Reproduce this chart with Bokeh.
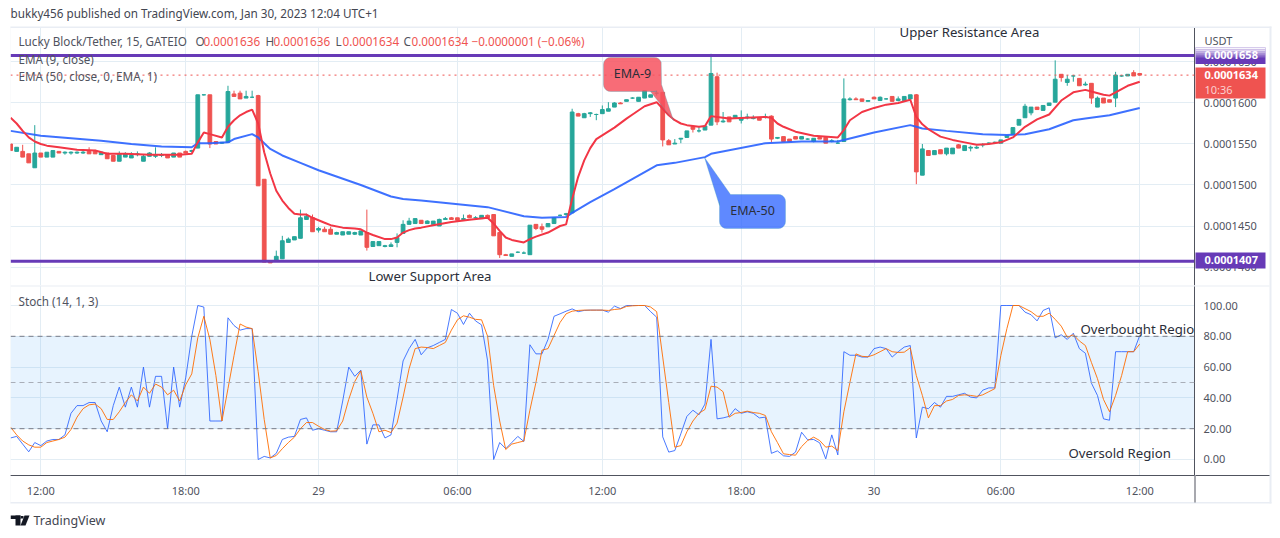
from bokeh.plotting import figure
from bokeh.layouts import column
from bokeh.core.properties import value
from bokeh.models import (Range1d, FixedTicker, PrintfTickFormatter, Span, BoxAnnotation,
                          PolyAnnotation, Label, ColumnDataSource)
from bokeh.embed import file_html
from bokeh.resources import INLINE
import numpy as np

# ---------------- data (prices in units of 1e-7 USDT, one value per bar) ----------------
opens = [1550,1541,1541,1538,1521,1539,1534,1534,1541,1539,
 1539,1539,1539,1541,1541,1537,1539,1536,1529,1534,
 1533,1537,1529,1535,1535,1536,1537,1534,1539,1541,
 1541,1545,1610,1610,1553,1551,1552,1611,1612,1606,
 1607,1609,1507,1407,1407,1410,1430,1433,1435,1458,
 1460,1445,1446,1446,1440,1439,1440,1440,1439,1442,
 1425,1426,1425,1425,1430,1441,1452,1453,1457,1453,
 1452,1450,1458,1460,1460,1458,1463,1460,1459,1463,
 1464,1442,1415,1413,1418,1417,1415,1452,1449,1449,
 1453,1463,1464,1466,1587,1582,1587,1586,1587,1590,
 1595,1600,1602,1606,1602,1606,1607,1612,1613,1554,
 1550,1556,1558,1571,1566,1567,1573,1632,1577,1583,
 1582,1579,1582,1581,1582,1583,1584,1557,1559,1556,
 1559,1556,1556,1553,1558,1558,1553,1551,1553,1604,
 1605,1605,1602,1607,1603,1605,1608,1603,1603,1605,
 1610,1512,1542,1537,1543,1538,1538,1549,1542,1545,
 1545,1549,1551,1552,1551,1558,1562,1573,1582,1588,
 1595,1591,1597,1601,1635,1625,1633,1630,1622,1624,
 1595,1606,1604,1606,1633,1633,1637,1636]
highs = [1550,1546,1549,1538,1573,1539,1540,1542,1541,1541,
 1541,1541,1543,1546,1543,1540,1539,1536,1541,1540,
 1540,1541,1537,1540,1546,1539,1537,1539,1539,1542,
 1543,1610,1610,1610,1553,1552,1621,1615,1615,1615,
 1615,1610,1507,1407,1420,1438,1436,1437,1470,1465,
 1464,1449,1449,1449,1443,1443,1443,1443,1444,1470,
 1431,1431,1427,1430,1441,1457,1460,1459,1457,1457,
 1456,1459,1461,1461,1460,1464,1464,1462,1463,1464,
 1464,1442,1416,1416,1419,1419,1451,1452,1453,1453,
 1460,1464,1466,1593,1588,1588,1589,1587,1597,1601,
 1601,1601,1604,1607,1607,1615,1610,1615,1613,1556,
 1556,1557,1566,1571,1571,1572,1660,1637,1589,1583,
 1585,1591,1587,1585,1582,1587,1585,1558,1559,1556,
 1559,1559,1557,1557,1559,1558,1556,1555,1630,1607,
 1607,1605,1603,1608,1608,1606,1608,1608,1608,1610,
 1611,1550,1542,1542,1543,1545,1545,1550,1548,1548,
 1548,1551,1552,1553,1555,1560,1570,1580,1599,1595,
 1595,1597,1600,1652,1635,1634,1634,1630,1626,1624,
 1608,1606,1604,1638,1634,1635,1640,1636]
lows = [1542,1541,1534,1527,1521,1534,1534,1534,1539,1537,
 1537,1538,1538,1538,1538,1537,1532,1529,1529,1534,
 1533,1535,1529,1535,1533,1534,1533,1534,1534,1539,
 1540,1545,1609,1545,1550,1550,1552,1608,1605,1606,
 1606,1499,1406,1405,1407,1410,1430,1433,1435,1458,
 1443,1442,1443,1440,1440,1439,1440,1439,1439,1420,
 1425,1426,1424,1425,1424,1441,1452,1453,1453,1453,
 1452,1450,1458,1458,1456,1457,1460,1459,1459,1460,
 1438,1411,1414,1413,1417,1416,1415,1445,1442,1449,
 1453,1462,1462,1466,1584,1582,1583,1579,1587,1590,
 1595,1599,1602,1605,1602,1606,1607,1609,1547,1549,
 1550,1551,1558,1564,1564,1567,1573,1573,1576,1577,
 1582,1575,1580,1580,1579,1581,1552,1556,1553,1553,
 1556,1556,1555,1552,1556,1551,1552,1550,1553,1603,
 1604,1602,1602,1605,1603,1604,1602,1602,1603,1605,
 1501,1512,1536,1537,1538,1536,1538,1545,1542,1541,
 1544,1546,1550,1551,1551,1558,1562,1573,1582,1585,
 1592,1591,1597,1601,1626,1621,1626,1621,1621,1599,
 1595,1600,1601,1595,1632,1633,1633,1634]
closes = [1542,1546,1534,1527,1539,1534,1540,1542,1539,1540,
 1540,1540,1540,1538,1538,1540,1532,1529,1538,1538,
 1536,1538,1535,1539,1536,1537,1533,1539,1534,1539,
 1542,1610,1610,1550,1550,1552,1614,1608,1605,1608,
 1607,1499,1406,1405,1413,1432,1434,1437,1460,1462,
 1443,1447,1443,1440,1442,1443,1443,1442,1444,1424,
 1431,1431,1426,1427,1436,1452,1456,1459,1453,1456,
 1456,1458,1459,1458,1457,1459,1460,1460,1463,1460,
 1438,1415,1414,1416,1418,1417,1451,1447,1446,1453,
 1460,1463,1465,1589,1584,1587,1588,1586,1592,1593,
 1600,1599,1604,1606,1607,1615,1610,1612,1555,1549,
 1551,1557,1566,1568,1566,1572,1636,1577,1578,1577,
 1585,1582,1583,1582,1579,1583,1556,1558,1553,1553,
 1556,1559,1556,1557,1556,1551,1554,1551,1605,1605,
 1604,1602,1603,1605,1607,1605,1602,1605,1608,1610,
 1516,1544,1536,1542,1538,1545,1545,1545,1548,1546,
 1546,1549,1551,1552,1555,1560,1570,1580,1596,1595,
 1592,1597,1600,1629,1631,1629,1633,1621,1623,1606,
 1606,1600,1601,1634,1633,1635,1633,1634]

ema9_bars = [-5,-4,-3,-2,-1,0,1,3,6,9,11,14,18,23,25,26,27,28,30,31,32,33,34,35,36,37,38,39,40,41,42,43,44,45,46,47,48,50,52,53,54,55,57,58,59,60,61,62,63,
 65,68,71,74,75,76,77,78,80,81,82,84,86,87,88,89,90,91,92,95,97,98,100,102,103,104,105,106,107,109,110,111,112,114,120,121,122,123,125,128,132,
 133,134,136,138,140,142,144,145,146,147,149,151,153,155,157,159,160,161,163,165,167,169,171,173,174,176,177,178,180,182]
ema9_vals = [1582,1575,1566,1558,1553,1550,1548,1546,1543,1542,1538,1538,1537,1537,1538,1552,1564,1562,1558,1571,1579,1585,1589,1592,1575,1540,1514,1493,1481,1472,1465,1464,1464,1460,1457,1454,1451,1448,1447,1446,1442,1439,1434,1434,1436,1442,1445,1447,1448,
 1451,1455,1457.5,1460,1453,1444,1436,1433,1430,1434,1437,1442,1450,1452,1483,1510,1530,1545,1556,1570,1581,1586,1596,1601,1593,1585,1579,1575,1573,1571,1572,1584,1583,1581,1583,1582,1575,1571,1565,1560,1558,
 1567,1579,1589,1594,1598,1600,1604,1583,1574,1568,1559,1555,1552,1549,1550,1552,1555,1558,1571,1580,1586,1603,1613,1616,1614,1610,1609,1613,1621,1626]
ema50_bars = [-5,0,5,10,15,20,25,26,28,31,32,35,36,37,38,40,43,46,53,58,60,63,
 74,80,83,87,88,91,93,95,102,105,110,111,120,126,132,138,144,145,146,150,156,160,163,167,171,173,177,182]
ema50_vals = [1566,1560,1557,1554,1550,1547,1546,1551,1551,1552,1556,1562,1558,1551,1544,1536,1527,1518,1500,1486,1483,1481,
 1473,1462,1460,1461,1466,1479,1487,1495,1524,1527,1534,1538,1551,1553,1553,1564,1573,1571,1569,1566,1562,1561,1562,1568,1579,1581,1585,1594]

stoch_k = [14,15,10,5,11,9,12,13,13,16,
 30,35,35,37,37,25,18,35,47,34,
 47,34,60,34,54,54,20,60,34,53,
 80,100,99,25,25,25,92,87,84,85,
 85,0,2,1,4,13,14.5,15,26,27,
 19,20,19,18,18,38,60,54,58,10,
 22.5,22.5,14,16,39,64,72,78,68,72.5,
 74,76,78,97.4,95,87.7,95,90,87.4,64,
 0,11,7,11,15,11.7,74.5,68.6,68.6,78,
 93,94.6,96.3,97.8,96,96.8,97,97,97,95.7,
 99.6,98,100,100,100,100,96,92.4,14.7,4.8,
 5.8,16.7,28,32,29,36,78,26.4,27,28,
 33,30,31,30,27,27.5,4,5.6,2.4,2,
 4.8,17.7,12.8,13,10.8,0.4,16,3,70,67.7,
 67.7,66.5,66.5,72,73,72,66.5,70,73,74,
 14,34,33,37,34,41,41,42,43,40.5,
 40,45,46.5,46.5,100,100,100,100,95.7,94,
 90,96.8,98.5,79,81,78,82,72,69,49.6,
 41.6,26.4,25.5,70,70,70,70,80.5]
stoch_d = [21,16,12,9.5,8,8,11,12,13,14.5,
 19.5,27.5,33,35.5,36,33,26,26,31,37,
 42,38,47,43,49,47,42,45,38,48.5,
 55.6,79,93,78,54.5,25,46,67.5,88,86,
 85,57,26,1,2.6,7,11,14.5,20,24,
 24,21.6,19.5,18.4,18.6,25,39,50.6,57.6,40.5,
 30,18,19,17.5,23.6,40.5,59,72,73,72.7,
 72,74,76,84,90.7,93.3,92.4,91,90.7,80,
 48,25,6.5,10,11,12,32,50,71,72,
 80.5,89,94.6,96.3,96.8,97,97,97,97,96.8,
 97.4,97.8,99.4,99.8,100,100,99,96,66.5,37,
 8,9,18,25,30,32.5,47.6,47,44,27.5,
 30,30.5,31.4,30.5,30,28.6,18,11,3.7,3.2,
 2.8,8.4,12.3,14.5,12.3,8,8.7,5.8,31,50,
 68.6,67,66.7,68,70,72,70,69.5,69.7,72.5,
 54.5,41.6,27,35,35,38,39,41.6,42,41.6,
 41,42,44,46,67.5,85,100,100,98,96,
 93,93,95,91,86.6,79.4,81,77,74,63,
 52.5,39,31,41.6,54.5,70,70,75]

time_tick_bars = [0,24,46,69,93,116,138,159,182]
time_tick_labels = ["12:00","18:00","29","06:00","12:00","18:00","30","06:00","12:00"]
price_ticks = [1400,1450,1500,1550,1600,1650]
stoch_ticks = [0,20,40,60,80,100]
resistance_level = 1658
support_level = 1407
last_close = 1634
# -----------------------------------------------------------------------------------------

assert len(opens)==len(highs)==len(lows)==len(closes)==len(stoch_k)==len(stoch_d)==188
assert len(ema9_bars)==len(ema9_vals) and len(ema50_bars)==len(ema50_vals)

UNIT = 1e-7
FONT = "Noto Sans"
GRID = "#e3edf4"
TXT = "#50535e"
AXIS = "#50535e"
BAND = "#e9edf4"
GREEN, RED = "#26a69a", "#ef5350"
PURPLE = "#673ab7"

W, H1, H2 = 1272, 285, 245
bars = np.arange(len(opens)) - 5
x_range = Range1d(-5.018, 191.07)

p1 = figure(width=W, height=H1, x_range=x_range,
            y_range=Range1d(1377.44*UNIT, 1692.07*UNIT),
            x_axis_location=None, y_axis_location="right",
            toolbar_location=None, output_backend="svg",
            min_border_left=10, min_border_right=78, min_border_top=27, min_border_bottom=0,
            outline_line_color=None, background_fill_color="white", border_fill_color="white")
p2 = figure(width=W, height=H2, x_range=x_range,
            y_range=Range1d(-10.39, 112.99),
            y_axis_location="right",
            toolbar_location=None, output_backend="svg",
            min_border_left=10, min_border_right=78, min_border_top=0, min_border_bottom=55,
            outline_line_color=None, background_fill_color="white", border_fill_color="white")
# transparent sheet over both panes, for everything that sits outside the panes or over the scales
ov = figure(frame_width=W, frame_height=H1+H2, x_range=Range1d(0, 1), y_range=Range1d(0, 1),
            x_axis_location=None, y_axis_location=None,
            toolbar_location=None, output_backend="svg",
            min_border_left=0, min_border_right=0, min_border_top=0, min_border_bottom=0,
            outline_line_color=None, background_fill_color=None, border_fill_color=None,
            styles={"position": "absolute", "left": "0px", "top": "0px", "z-index": "5",
                    "width": f"{W}px", "height": f"{H1+H2}px", "pointer-events": "none"})
ov.grid.visible = False

def rect(x0, y0, x1, y1, color, alpha=1.0):
    ov.add_layout(BoxAnnotation(left=x0, right=x1, top=y0, bottom=y1,
                  left_units="canvas", right_units="canvas", top_units="canvas", bottom_units="canvas",
                  fill_color=color, fill_alpha=alpha, line_color=None, line_width=0, level="overlay",
                  editable=False))

def text(x, y, s, size=11.5, color=TXT, align="left", bold=False, alpha=1.0):
    ov.add_layout(Label(x=x, y=y-1, text=s, x_units="canvas", y_units="canvas",
                  text_font=FONT, text_font_size=f"{size}px", text_color=color, text_align=align,
                  text_baseline="middle", text_alpha=alpha, text_font_style="bold" if bold else "normal",
                  level="overlay"))

def rounded(x0, y0, x1, y1, r):
    pts = []
    for cxx, cyy, a0 in [(x0+r, y0+r, 180), (x1-r, y0+r, 270), (x1-r, y1-r, 0), (x0+r, y1-r, 90)]:
        for a in np.radians(np.linspace(a0, a0+90, 6)):
            pts.append((cxx + r*np.cos(a), cyy + r*np.sin(a)))
    return pts

def poly(pts, fill, alpha, line=None):
    ov.add_layout(PolyAnnotation(xs=[a for a, _ in pts], ys=[b for _, b in pts],
                  xs_units="canvas", ys_units="canvas", fill_color=fill, fill_alpha=alpha,
                  line_color=line, line_width=1 if line else 0, level="overlay", editable=False))

# ---- price pane ----
p1.xgrid.ticker = FixedTicker(ticks=time_tick_bars)
p1.ygrid.ticker = FixedTicker(ticks=[v*UNIT for v in price_ticks])
for g in (p1.xgrid, p1.ygrid, ):
    g.grid_line_color = GRID
    g.grid_line_width = 1

src = ColumnDataSource(dict(
    x=bars,
    o=np.array(opens)*UNIT, h=np.array(highs)*UNIT, l=np.array(lows)*UNIT, c=np.array(closes)*UNIT,
    col=[GREEN if c >= o else RED for o, c in zip(opens, closes)],
))
p1.segment("x", "h", "x", "l", source=src, line_color="col", line_width=1)
p1.vbar(x="x", top="o", bottom="c", width=0.62, source=src, fill_color="col", line_color="col", line_width=1)
p1.line(ema50_bars, np.array(ema50_vals)*UNIT, line_color="#2962ff", line_width=2, line_alpha=0.9)
p1.line(ema9_bars, np.array(ema9_vals)*UNIT, line_color="#f23645", line_width=2)

p1.add_layout(Span(location=last_close*UNIT, dimension="width", line_color=RED, line_dash="dotted", line_width=1))
p1.add_layout(Span(location=resistance_level*UNIT, dimension="width", line_color=PURPLE, line_width=3))
p1.add_layout(Span(location=support_level*UNIT, dimension="width", line_color=PURPLE, line_width=3))

ya = p1.yaxis[0]
ya.ticker = FixedTicker(ticks=[v*UNIT for v in price_ticks])
ya.formatter = PrintfTickFormatter(format="%.7f")

# ---- stochastic pane ----
p2.xgrid.ticker = FixedTicker(ticks=time_tick_bars)
p2.ygrid.ticker = FixedTicker(ticks=stoch_ticks)
for g in (p2.xgrid, p2.ygrid):
    g.grid_line_color = GRID
    g.grid_line_width = 1
p2.add_layout(BoxAnnotation(top=80, bottom=20, fill_color="#2196f3", fill_alpha=0.11, line_color=None, level="underlay"))
p2.line(bars, stoch_k, line_color="#2962ff", line_width=1, line_alpha=0.85)
p2.line(bars, stoch_d, line_color="#ff6d00", line_width=1, line_alpha=0.9)
for lvl, c in ((80, "#787b86"), (50, "#a9aeb8"), (20, "#787b86")):
    p2.add_layout(Span(location=lvl, dimension="width", line_color=c, line_dash=[5, 4], line_width=1))

xa = p2.xaxis[0]
xa.ticker = FixedTicker(ticks=time_tick_bars)
xa.major_label_overrides = {int(b): l for b, l in zip(time_tick_bars, time_tick_labels)}
xa.major_tick_out = 0
xa.major_tick_in = 0
xa.minor_tick_out = 0
xa.minor_tick_in = 0
xa.major_tick_line_color = None
xa.minor_tick_line_color = None
xa.axis_line_color = AXIS
xa.major_label_text_font = FONT
xa.major_label_text_font_size = "11px"
xa.major_label_text_color = TXT
xa.major_label_standoff = 7

yb = p2.yaxis[0]
yb.ticker = FixedTicker(ticks=stoch_ticks)
yb.formatter = PrintfTickFormatter(format="%.2f")

for ax in (ya, yb):
    ax.major_tick_out = 0
    ax.major_tick_in = 0
    ax.minor_tick_out = 0
    ax.minor_tick_in = 0
    ax.major_tick_line_color = None
    ax.minor_tick_line_color = None
    ax.axis_line_color = AXIS
    ax.major_label_text_font = FONT
    ax.major_label_text_font_size = "11px"
    ax.major_label_text_color = TXT
    ax.major_label_standoff = 9

# ---- frame bands and axis extensions ----
rect(9, 26, 1271, 27.5, BAND)          # top band
rect(9, 26, 10, 503, BAND)             # left
rect(1269, 26, 1271, 503, BAND)        # right
rect(9, 501.5, 1271, 503, BAND)        # bottom
rect(10, 285, 1269, 286, BAND)         # pane separator
rect(1194, 475, 1195, 502, AXIS)       # price axis continues below the pane
rect(1195, 474.5, 1269, 475.5, AXIS)   # time axis continues under the scale

# ---- page texts ----
text(10, 13.5, "bukky456 published on TradingView.com, Jan 30, 2023 12:04 UTC+1", 11.7, "#434651")
text(18, 41.5, "Lucky Block/Tether, 15, GATEIO", 11.7)
for lx, vx, ltr, val in ((195, 203, "O", "0.0001636"), (265, 273, "H", "0.0001636"),
                         (335, 342, "L", "0.0001634"), (403, 411, "C", "0.0001634")):
    text(lx, 41.5, ltr, 11.7)
    text(vx, 41.5, val, 11.7, RED)
text(471, 41.5, "\u22120.0000001 (\u22120.06%)", 11.7, RED)
text(18, 59, "EMA (9, close)", 11.7)
text(18, 76, "EMA (50, close, 0, EMA, 1)", 11.7)
text(899, 32, "Upper Resistance Area", 13.2, "#2a2e39")
text(368, 276, "Lower Support Area", 13.2, "#2a2e39")
text(18, 301, "Stoch (14, 1, 3)", 11.7)
text(1068, 453, "Oversold Region", 13.2, "#2a2e39")
p2.text(x=[(1080-40.3)/6.038], y=[84.5], text=["Overbought Region"], text_font=value(FONT),
        text_font_size="13.2px", text_color="#2a2e39", text_baseline="middle")

# ---- callouts ----
r9 = rounded(603, 57, 661, 91, 7)
poly(r9[:11] + [(661, 84), (673, 120), (650, 91)] + r9[16:], "#f7525f", 0.85, "#3e97a8")
r50 = rounded(719, 194, 785, 228, 7)
poly([(704, 157), (730, 194)] + r50[6:] + r50[:1] + [(719, 205)], "#2962ff", 0.75, "#45a0b8")
text(632, 74, "EMA-9", 12.5, "#2a2e39", "center")
text(752, 211, "EMA-50", 12.5, "#2a2e39", "center")

# ---- price scale labels ----
text(1204, 41, "USDT", 11)
rect(1195, 47, 1265, 63.5, PURPLE)
text(1204, 55.5, "0.0001658", 11, "white", bold=True)
for i, a in enumerate((0.95, 0.8, 0.6, 0.4, 0.2)):
    rect(1195, 47+i*2, 1265, 49+i*2, "white", a)
rect(1195, 67, 1265, 98, RED)
text(1204, 75.5, "0.0001634", 11, "white", bold=True)
text(1204, 90, "10:36", 11, "#fbd0cf")
rect(1195, 252, 1265, 268, PURPLE)
text(1204, 260.5, "0.0001407", 11, "white", bold=True)

# ---- TradingView mark ----
rect(10, 515, 20, 518.5, "#131722")
rect(15, 515, 20, 525, "#131722")
rect(20.5, 515.5, 23, 518, "#131722")
poly([(24, 515), (29, 515), (25, 525), (20, 525)], "#131722", 1.0)
text(33, 520.5, "TradingView", 12.5, "#434651")

open("out.html", "w").write(file_html(column(ov, p1, p2, spacing=0), INLINE))
